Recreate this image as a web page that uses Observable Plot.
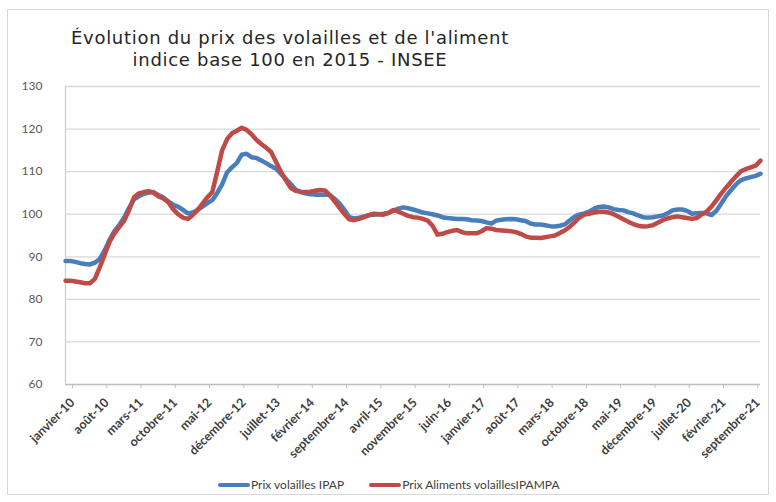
<!DOCTYPE html>
<html><head><meta charset="utf-8">
<script src="https://cdn.jsdelivr.net/npm/d3@7"></script>
<script src="https://cdn.jsdelivr.net/npm/@observablehq/plot@0.6"></script>
<style>
html,body{margin:0;padding:0;background:#fff;}
body{width:776px;height:502px;position:relative;overflow:hidden;font-family:Lato,sans-serif;}
#frame{position:absolute;left:7px;top:9px;width:762px;height:486px;border:1px solid #d9d9d9;box-sizing:border-box;pointer-events:none;}
#title{position:relative;height:76px;width:580px;text-align:center;font-family:"DejaVu Sans",sans-serif;font-size:18px;letter-spacing:0.7px;color:#262626;box-sizing:border-box;padding-top:27px;}
#title div{height:22px;line-height:22px;white-space:nowrap;}
#chart{position:relative;height:390px;}
#legend{position:absolute;top:477px;left:218px;font-size:12px;color:#404040;white-space:nowrap;display:flex;align-items:center;}
.sw{display:inline-block;width:32px;height:4px;border-radius:2px;margin-right:1px;}
.item{display:flex;align-items:center;margin-right:25px;}
</style></head>
<body>
<div id="frame"></div>
<div id="title"><div>Évolution du prix des volailles et de l'aliment</div><div>indice base 100 en 2015 - INSEE</div></div>
<div id="chart"></div>
<div id="legend"></div>
<script>
const seriesNames = ["Prix volailles IPAP", "Prix Aliments volaillesIPAMPA"];
const seriesColors = ["#4A7EBB", "#BE4B48"];
const tickLabels = ["janvier-10","août-10","mars-11","octobre-11","mai-12","décembre-12","juillet-13","février-14","septembre-14","avril-15","novembre-15","juin-16","janvier-17","août-17","mars-18","octobre-18","mai-19","décembre-19","juillet-20","février-21","septembre-21"];
const yTicks = [60,70,80,90,100,110,120,130];
// monthly values, janvier 2010 .. novembre 2021
const ipap = [
89.0,89.0,88.8,88.5,88.3,88.2,88.6,89.5,91.5,94.0,96.0,97.5,
99.2,101.5,103.5,104.2,104.8,105.1,105.2,104.5,103.9,103.0,102.2,101.8,
101.0,100.2,100.4,101.0,101.8,102.6,103.3,105.0,107.0,109.8,111.0,112.0,
114.0,114.2,113.4,113.2,112.6,112.0,111.3,110.7,109.5,108.3,107.1,105.8,
105.2,104.9,104.7,104.6,104.6,104.6,104.5,103.6,102.5,101.0,99.3,99.0,
99.2,99.5,99.8,99.9,100.0,100.1,100.3,100.8,101.3,101.6,101.4,101.1,
100.8,100.4,100.2,100.0,99.7,99.3,99.1,99.0,98.9,98.9,98.8,98.6,
98.5,98.4,98.1,97.8,98.5,98.7,98.8,98.9,98.8,98.6,98.4,97.8,
97.6,97.6,97.4,97.2,97.1,97.3,97.6,98.5,99.4,99.9,100.2,100.6,
101.3,101.7,101.8,101.6,101.2,101.0,100.9,100.5,100.2,99.7,99.3,99.2,
99.3,99.5,99.7,100.2,100.9,101.1,101.1,100.8,100.1,100.2,100.3,100.2,
99.8,100.8,102.5,104.3,105.7,107.0,108.0,108.4,108.7,109.0,109.5];
const ipampa = [
84.4,84.4,84.2,84.0,83.8,83.8,84.8,87.5,90.5,93.5,95.5,97.0,
98.5,101.0,104.0,104.9,105.2,105.4,105.0,104.2,103.7,102.8,101.2,100.0,
99.2,98.9,99.8,101.0,102.5,104.0,105.2,110.0,115.0,117.6,119.0,119.6,
120.3,119.8,118.8,117.5,116.5,115.6,114.6,112.3,110.0,108.0,106.2,105.5,
105.3,105.2,105.3,105.5,105.7,105.6,104.5,103.0,101.5,100.0,98.8,98.6,
98.9,99.3,99.8,100.1,100.0,99.9,100.3,101.0,100.6,100.1,99.6,99.3,
99.2,98.9,98.5,97.3,95.2,95.4,95.8,96.1,96.3,95.8,95.5,95.5,
95.5,96.0,96.7,96.6,96.3,96.2,96.1,96.0,95.8,95.4,94.8,94.5,
94.5,94.4,94.6,94.8,95.0,95.6,96.2,97.0,98.1,99.2,99.9,100.1,
100.4,100.6,100.6,100.4,100.0,99.4,98.8,98.2,97.7,97.3,97.1,97.2,
97.4,98.0,98.6,99.0,99.3,99.5,99.3,99.1,98.9,99.1,100.0,100.6,
101.8,103.3,104.9,106.3,107.6,108.9,110.1,110.6,111.0,111.4,112.6];

const blue = ipap.map((v,i)=>({i,v}));
const red = ipampa.map((v,i)=>({i,v}));
const tickIdx = tickLabels.map((_,k)=>k*7);

const chart = Plot.plot({
  width:776, height:390,
  marginLeft:65, marginRight:16, marginTop:10, marginBottom:82,
  style:{fontFamily:"Lato, sans-serif", background:"transparent"},
  x:{domain:[0,ipap.length-1], axis:null},
  y:{domain:[60,130], axis:null},
  marks:[
    Plot.ruleY(yTicks.filter(d=>d>60), {stroke:"#d9d9d9", strokeWidth:1.3}),
    Plot.ruleX([0], {stroke:"#d0d0d0", strokeWidth:1.3}),
    Plot.ruleY([60], {stroke:"#bfbfbf", strokeWidth:1.5}),
    Plot.axisY(yTicks, {label:null, tickSize:0, tickPadding:23, fontSize:12, fill:"#595959", tickFormat:d=>String(d)}),
    Plot.axisX(tickIdx, {label:null, tickSize:4, tickPadding:12, dx:7, stroke:"#bfbfbf", tickRotate:-45, fontSize:12.5, fontWeight:"bold", fill:"#404040", tickFormat:(d)=>tickLabels[d/7]}),
    Plot.line(blue, {x:"i", y:"v", stroke:seriesColors[0], strokeWidth:4.5, strokeLinejoin:"round", strokeLinecap:"round"}),
    Plot.line(red, {x:"i", y:"v", stroke:seriesColors[1], strokeWidth:4.5, strokeLinejoin:"round", strokeLinecap:"round"})
  ]
});
document.getElementById("chart").appendChild(chart);

const leg = document.getElementById("legend");
seriesNames.forEach((n,k)=>{
  const it = document.createElement("div"); it.className="item";
  const sw = document.createElement("span"); sw.className="sw"; sw.style.background=seriesColors[k];
  const tx = document.createElement("span"); tx.textContent=n;
  it.appendChild(sw); it.appendChild(tx); leg.appendChild(it);
});
</script>
</body></html>
